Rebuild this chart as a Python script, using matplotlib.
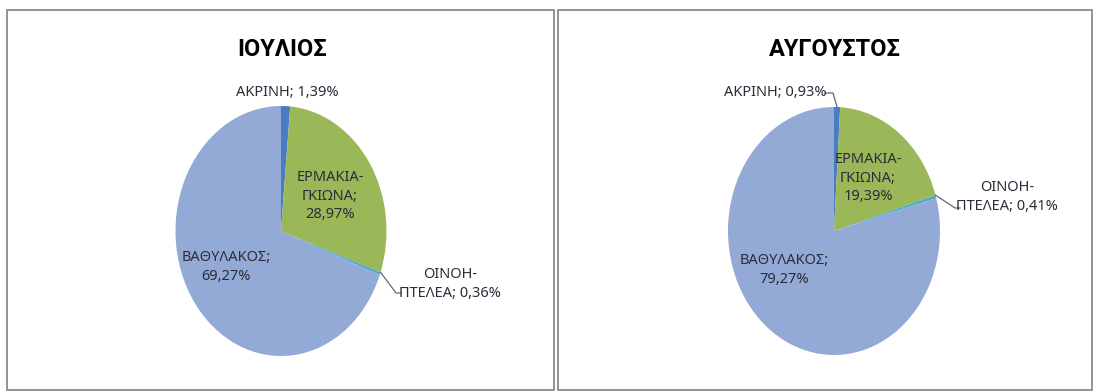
import math
import matplotlib
matplotlib.use("Agg")
import matplotlib.pyplot as plt
from matplotlib.patches import Rectangle
from matplotlib.lines import Line2D

plt.rcParams['font.family'] = ['Liberation Sans Narrow', 'Noto Sans Condensed',
                               'Noto Sans', 'DejaVu Sans']
plt.rcParams['font.stretch'] = 'condensed'

# Μερίδια ανά περιοχή (%)
regions = ['ΑΚΡΙΝΗ', 'ΕΡΜΑΚΙΑ-\nΓΚΙΩΝΑ', 'ΟΙΝΟΗ-\nΠΤΕΛΕΑ', 'ΒΑΘΥΛΑΚΟΣ']
july = [1.39, 28.97, 0.36, 69.27]
august = [0.93, 19.39, 0.41, 79.27]
months = ['ΙΟΥΛΙΟΣ', 'ΑΥΓΟΥΣΤΟΣ']

colors = ['#4a7cc0', '#9bb859', '#4bacc6', '#93a9d6']
text_col = '#2c2c3a'

W, H = 1096, 392
fig = plt.figure(figsize=(W / 100, H / 100), dpi=100)


def fx(px):
    return px / W


def fy(py):
    return 1 - py / H


# πλαίσια των δύο γραφημάτων
for x0, x1 in [(7, 554), (558, 1092)]:
    fig.patches.append(Rectangle((fx(x0), fy(390)), fx(x1 - x0), (390 - 10) / H,
                                 transform=fig.transFigure, fill=False,
                                 edgecolor='#8a8a8a', linewidth=1.3))

# κέντρο και ημιάξονες κάθε πίτας σε pixel
pies = [dict(cx=281, cy=231, rx=105.5, ry=125, vals=july),
        dict(cx=834, cy=231, rx=106, ry=124, vals=august)]

# θέσεις ετικετών (pixel) και γραμμές οδηγοί
label_pos = [
    [(287, 93), (330, 196), (450, 284), (226, 267)],
    [(775, 93), (868, 178), (1007, 197), (784, 270)],
]
leaders = [
    {2: [(396, 293), (401, 293)]},
    {0: [(833, 93), (825, 93)], 2: [(955, 208), (960, 208)]},
]

for i, p in enumerate(pies):
    ax = fig.add_axes([fx(p['cx'] - p['rx']), fy(p['cy'] + p['ry']),
                       fx(2 * p['rx']), 2 * p['ry'] / H])
    ax.pie(p['vals'], colors=colors, startangle=90, counterclock=False,
           wedgeprops=dict(linewidth=0))
    ax.set_aspect('auto')
    ax.set_xlim(-1, 1)
    ax.set_ylim(-1, 1)
    ax.axis('off')

    fig.text(fx(p['cx'] + 1), fy(50), months[i], ha='center', va='center',
             fontsize=17, fontweight='bold', color='black',
             family=['Roboto', 'DejaVu Sans'], fontstretch='normal')

    for j, (name, v) in enumerate(zip(regions, p['vals'])):
        pct = f"{v:.2f}".replace('.', ',') + '%'
        sep = '\n' if j in (1, 3) else ' '
        txt = f"{name};{sep}{pct}"
        x, y = label_pos[i][j]
        fig.text(fx(x), fy(y), txt, ha='center', va='center', ma='center',
                 fontsize=10.5, color=text_col, linespacing=1.35)

    # γραμμές οδηγοί από το άκρο της φέτας
    cum = 0
    for j, v in enumerate(p['vals']):
        if j in leaders[i]:
            if j == 0:
                ang = 90 - (cum + v / 2) * 3.6
            else:
                ang = 90 - cum * 3.6
            sx = p['cx'] + p['rx'] * math.cos(math.radians(ang))
            sy = p['cy'] - p['ry'] * math.sin(math.radians(ang))
            pts = [(sx, sy)] + leaders[i][j]
            fig.lines.append(Line2D([fx(a) for a, b in pts], [fy(b) for a, b in pts],
                                    transform=fig.transFigure, color='#5a6a80',
                                    linewidth=0.9))
        cum += v

fig.savefig('out.png', dpi=100, facecolor='white')
